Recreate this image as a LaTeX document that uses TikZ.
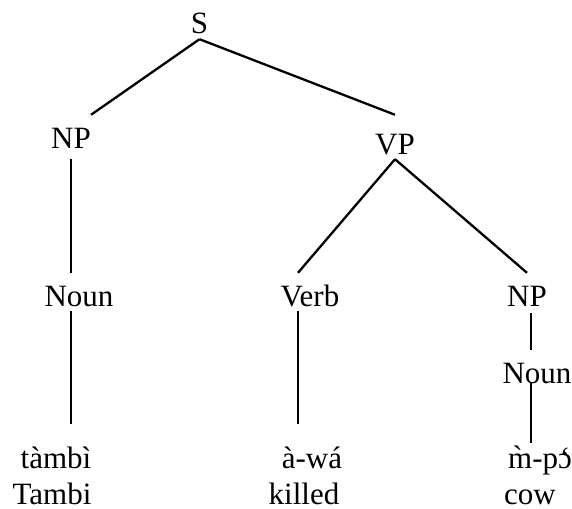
\documentclass[tikz,border=0pt]{standalone}
\usepackage{fontspec}
\setmainfont{Liberation Serif}
\usepackage{tikz}
\usetikzlibrary{calc}
\tikzstyle{cat} = [anchor=base, inner sep=0pt, text height=33pt, text depth=5pt, font=\fontsize{31}{36}\selectfont]
\tikzstyle{word} = [cat, text height=44pt]
\tikzstyle{gloss} = [cat, text height=22pt, text depth=0pt]
\tikzstyle{branch} = [line width=2.3pt]
\newcommand{\openograve}{\ooalign{ɔ\cr\hidewidth\char"60\hidewidth\cr}}

\begin{document}
\begin{tikzpicture}[x=1pt,y=-1pt]
\useasboundingbox (0,0) rectangle (572,508);
% categories
\node[cat] (S) at (199.5,34) {S};
\node[cat, text depth=11pt] (NPa) at (71,148) {NP};
\node[cat, text height=39pt] (VP) at (395,154) {VP};
\node[cat] (nounA) at (79,306) {Noun};
\node[cat] (verb) at (310,306) {Verb};
\node[cat, text depth=7pt] (NPb) at (527,306) {NP};
\node[cat] (nounB) at (537,383) {Noun};
% words
\node[word] (tambi) at (56,468) {tàmbì};
\node[word] (awa) at (312,468) {à-wá};
\node[word, text height=25pt] (mpo) at (540,468) {m̀-p\openograve};
% glosses
\node[gloss] (glossA) at (52,504) {Tambi};
\node[gloss] (glossB) at (304,504) {killed};
\node[gloss] (glossC) at (530,504) {cow};
% branches
\draw[branch] (S.south) -- (NPa.north east);
\draw[branch] (S.south) -- (VP.north);
\draw[branch] (NPa.south) -- (NPa.south |- nounA.north);
\draw[branch] (NPa.south |- nounA.south) -- (NPa.south |- tambi.north);
\draw[branch] (VP.south) -- ([xshift=-12pt]verb.north);
\draw[branch] (VP.south) -- (NPb.north);
\draw[branch] ([xshift=-12pt]verb.south) -- ([xshift=-12pt]verb.south |- awa.north);
\draw[branch] ([xshift=4pt]NPb.south) -- ([xshift=4pt]NPb.south |- nounB.north);
\draw[branch] ([xshift=4pt]NPb.south |- nounB.base) -- ([xshift=4pt]NPb.south |- mpo.north);
\end{tikzpicture}
\end{document}
